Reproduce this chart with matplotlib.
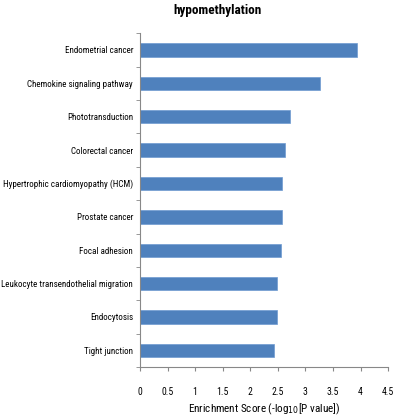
import matplotlib
matplotlib.use("Agg")
import matplotlib.pyplot as plt
from matplotlib import font_manager
import numpy as np

# pick a narrow face if one is around
names = {f.name for f in font_manager.fontManager.ttflist}
narrow = [n for n in ["Liberation Sans Narrow", "DejaVu Sans Condensed", "Roboto Condensed",
                      "Open Sans Condensed", "Liberation Sans"] if n in names]
plt.rcParams["font.family"] = narrow + ["DejaVu Sans"]

pathways = [
    "Endometrial cancer",
    "Chemokine signaling pathway",
    "Phototransduction",
    "Colorectal cancer",
    "Hypertrophic cardiomyopathy (HCM)",
    "Prostate cancer",
    "Focal adhesion",
    "Leukocyte transendothelial migration",
    "Endocytosis",
    "Tight junction",
]
scores = [3.93, 3.27, 2.73, 2.63, 2.58, 2.58, 2.56, 2.49, 2.49, 2.43]
xticks = [0, 0.5, 1, 1.5, 2, 2.5, 3, 3.5, 4, 4.5]
xtick_labels = ["0", "0.5", "1", "1.5", "2", "2.5", "3", "3.5", "4", "4.5"]

fig = plt.figure(figsize=(3.96, 4.20), dpi=100)
ax = fig.add_axes([0.3535, 0.126, 0.6265, 0.795])

y = np.arange(len(pathways))[::-1]
ax.barh(y, scores, height=0.4, color="#4f81bd", edgecolor="#6f9bd1", linewidth=0.5)

ax.set_xlim(0, 4.5)
ax.set_ylim(-0.5, len(pathways) - 0.5)
ax.set_yticks(y)
ax.set_yticklabels(pathways, fontsize=6.5, stretch="condensed")
ax.set_yticks(np.arange(-0.5, len(pathways), 1.0), minor=True)
ax.tick_params(axis="y", which="major", length=0, pad=5)
ax.tick_params(axis="y", which="minor", length=3, color="#888888")

ax.set_xticks(xticks)
ax.set_xticklabels(xtick_labels, fontsize=7)
ax.tick_params(axis="x", length=3, color="#888888", pad=11)

for s in ["top", "right"]:
    ax.spines[s].set_visible(False)
for s in ["left", "bottom"]:
    ax.spines[s].set_color("#888888")
    ax.spines[s].set_linewidth(0.8)

ax.set_xlabel("Enrichment Score (-log$_{10}$[P value])", fontsize=8, labelpad=4)
fig.text(0.548, 0.976, "hypomethylation", ha="center", va="center", fontsize=9.5, fontweight="bold")

plt.savefig("out.png", dpi=100)
